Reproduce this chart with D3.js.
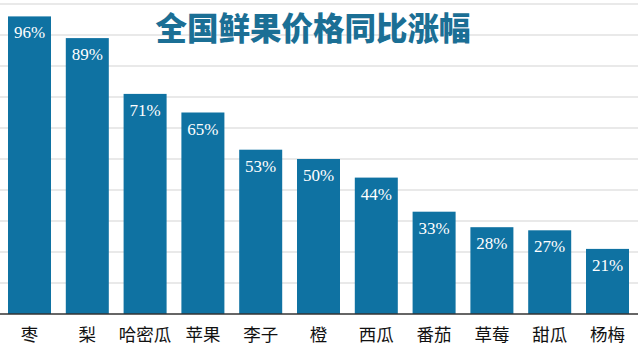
<!DOCTYPE html>
<html><head><meta charset="utf-8">
<script src="https://cdn.jsdelivr.net/npm/d3@7"></script>
<style>html,body{margin:0;padding:0;background:#fff;}svg{display:block;}</style>
</head><body>
<script>
const categories = ["枣","梨","哈密瓜","苹果","李子","橙","西瓜","番茄","草莓","甜瓜","杨梅"];
const values = [96,89,71,65,53,50,44,33,28,27,21];
const gridTicks = [0,10,20,30,40,50,60,70,80,90,100];
const title = "全国鲜果价格同比涨幅";

const W = 640, H = 360;
const svg = d3.select("body").append("svg").attr("width", W).attr("height", H);
svg.append("rect").attr("width", W).attr("height", H).attr("fill", "#fff");

const x = d3.scaleBand().domain(categories).range([0.6, 636.4]).paddingInner(0.256).paddingOuter(0.128);
const y = d3.scaleLinear().domain([0, 100]).range([314, 4]);

// gridlines
svg.append("g").selectAll("line").data(gridTicks.filter(d => d > 0)).join("line")
  .attr("x1", 0).attr("x2", 638)
  .attr("y1", d => y(d)).attr("y2", d => y(d))
  .attr("stroke", "#e2e2e2").attr("stroke-width", 1.5);

// title
svg.append("text").text(title)
  .attr("x", 313).attr("y", 40)
  .attr("text-anchor", "middle")
  .attr("font-family", "'Noto Sans CJK SC', sans-serif")
  .attr("font-weight", 900)
  .attr("font-size", 31.5)
  .attr("fill", "#1b6f95");

// bars
svg.append("g").selectAll("rect").data(values).join("rect")
  .attr("x", (d, i) => x(categories[i]))
  .attr("y", d => y(d))
  .attr("width", x.bandwidth())
  .attr("height", d => y(0) - y(d))
  .attr("fill", "#0f72a2");

// value labels
svg.append("g").selectAll("text").data(values).join("text")
  .text(d => d + "%")
  .attr("x", (d, i) => x(categories[i]) + x.bandwidth() / 2)
  .attr("y", d => y(d) + 22)
  .attr("text-anchor", "middle")
  .attr("font-family", "'Liberation Serif', 'DejaVu Serif', serif")
  .attr("font-size", 17)
  .attr("fill", "#fff");

// x axis
const xAxis = d3.axisBottom(x).tickSize(0).tickPadding(15);
const gx = svg.append("g").attr("transform", `translate(0,${y(0)})`).call(xAxis);
gx.select(".domain").attr("stroke", "#333").attr("stroke-width", 1.5).attr("d", "M0,0H638");
gx.selectAll("text")
  .attr("font-family", "'Noto Sans CJK SC', sans-serif")
  .attr("font-size", 17.5)
  .attr("fill", "#111");
</script>
</body></html>
